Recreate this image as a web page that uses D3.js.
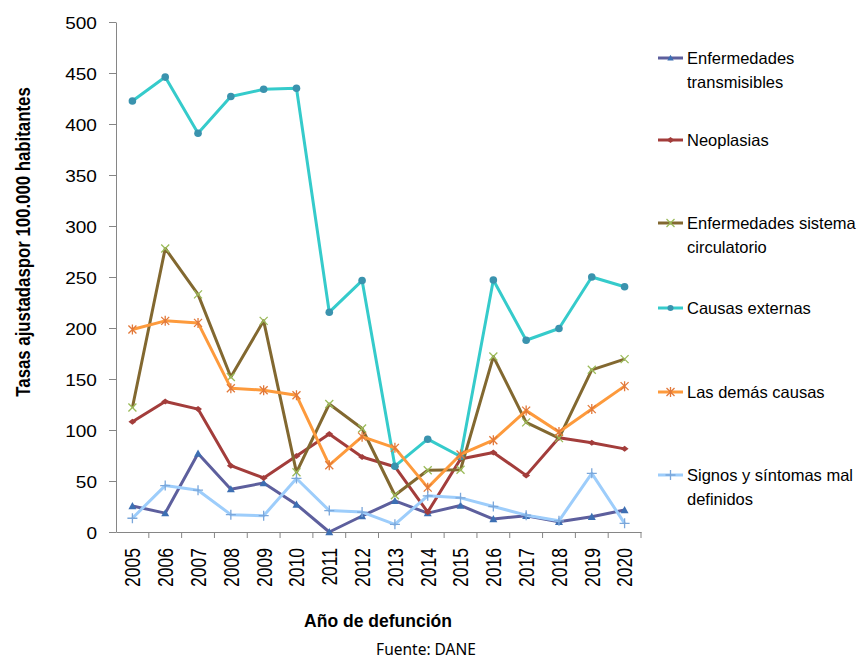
<!DOCTYPE html>
<html>
<head>
<meta charset="utf-8">
<script src="https://cdn.jsdelivr.net/npm/d3@7"></script>
<style>
  body { margin: 0; background: #fff; }
  svg { display: block; }
</style>
</head>
<body>
<div id="chart"></div>
<script>
// años (categorías)
var years = ['2005','2006','2007','2008','2009','2010','2011','2012','2013','2014','2015','2016','2017','2018','2019','2020'];
var yTicks = [0, 50, 100, 150, 200, 250, 300, 350, 400, 450, 500];

// tasas por grupo de causas
var transmisibles = [25.5, 18.5, 77, 42, 48, 27, 0, 15.7, 30.5, 18.5, 26, 12.7, 16, 10, 15, 21.5];
var neoplasias    = [108, 128, 120.5, 65, 53, 74.5, 96, 73.5, 64, 19.5, 71.5, 78, 55.5, 92.5, 87.5, 81.5];
var circulatorio  = [122, 278, 233, 152, 207, 58.5, 125.5, 101.5, 36, 60.5, 61, 172, 107.5, 92, 159, 169.5];
var externas      = [422.5, 446, 391, 427, 434, 435, 215.5, 246.5, 64.5, 91, 74, 247, 188, 199.5, 250, 240.5];
var demas         = [198.5, 207, 205, 141, 139, 134, 65.5, 93.5, 82.5, 43.5, 76, 90, 119, 98, 120.5, 143];
var signos        = [13.5, 45.5, 41, 17, 16, 52.5, 21, 19.5, 7.5, 35.5, 33.5, 25, 16.5, 11, 57.5, 8.5];

var seriesNames = ['Enfermedades transmisibles', 'Neoplasias', 'Enfermedades sistema circulatorio',
                   'Causas externas', 'Las demás causas', 'Signos y síntomas mal definidos'];
var legendLines = [['Enfermedades', 'transmisibles'], ['Neoplasias'], ['Enfermedades sistema', 'circulatorio'],
                   ['Causas externas'], ['Las demás causas'], ['Signos y síntomas mal', 'definidos']];

var series = [transmisibles, neoplasias, circulatorio, externas, demas, signos];
var lineColors = ['#5d5f9d', '#a33d3b', '#826830', '#35cbcb', '#fd9a3c', '#9dcdfb'];
var markColors = ['#3d6fb3', '#a33d3b', '#9bbb59', '#3a93ae', '#e2793a', '#7ba7da'];
var markTypes = ['tri', 'dia', 'x', 'circle', 'star', 'plus'];

var width = 860, height = 660;
var svg = d3.select('#chart').append('svg')
    .attr('width', width)
    .attr('height', height);

var x = d3.scaleBand().domain(years).range([116, 641]);
var y = d3.scaleLinear().domain([0, 500]).range([532, 22]);
var axisColor = '#868686';

// eje y
var gy = svg.append('g')
    .attr('transform', 'translate(116,0)')
    .call(d3.axisLeft(y).tickValues(yTicks).tickSize(7).tickSizeOuter(0));
gy.select('.domain').attr('stroke', axisColor);
gy.selectAll('.tick line').attr('stroke', axisColor);
gy.selectAll('.tick text')
    .attr('x', -17)
    .attr('dy', '0.36em')
    .attr('transform', 'scale(1.12,1)')
    .style('font-family', 'Liberation Sans, Arial, sans-serif')
    .style('font-size', '17px')
    .style('fill', '#000');

// eje x
var gx = svg.append('g')
    .attr('transform', 'translate(0,532)')
    .call(d3.axisBottom(x).tickSize(0).tickSizeOuter(0));
gx.select('.domain').attr('stroke', axisColor);
gx.selectAll('.tick text').remove();
gx.selectAll('.sep')
    .data(years.slice(1))
    .enter()
    .append('line')
    .attr('x1', function(d) { return x(d); })
    .attr('x2', function(d) { return x(d); })
    .attr('y1', 0)
    .attr('y2', 6)
    .attr('stroke', axisColor);
gx.append('line')
    .attr('x1', 641).attr('x2', 641).attr('y1', 0).attr('y2', 6)
    .attr('stroke', axisColor);

svg.append('g')
    .selectAll('text')
    .data(years)
    .enter()
    .append('text')
    .attr('transform', function(d) {
        return 'translate(' + (x(d) + x.bandwidth() / 2) + ',548) scale(1.25,1) rotate(-90)';
    })
    .attr('dy', '0.36em')
    .attr('text-anchor', 'end')
    .style('font-family', 'Liberation Sans, Arial, sans-serif')
    .style('font-size', '17.5px')
    .style('fill', '#000')
    .text(function(d) { return d; });

// títulos de ejes
svg.append('text')
    .attr('transform', 'translate(22,242) scale(1.25,1) rotate(-90)')
    .attr('dy', '0.36em')
    .attr('text-anchor', 'middle')
    .style('font-family', 'Liberation Sans, Arial, sans-serif')
    .style('font-weight', 'bold')
    .style('font-size', '16.8px')
    .text('Tasas ajustadaspor 100.000 habitantes');

svg.append('text')
    .attr('x', 378)
    .attr('y', 627)
    .attr('text-anchor', 'middle')
    .style('font-family', 'Liberation Sans, Arial, sans-serif')
    .style('font-weight', 'bold')
    .style('font-size', '17.5px')
    .text('Año de defunción');

svg.append('text')
    .attr('x', 426)
    .attr('y', 655)
    .attr('text-anchor', 'middle')
    .style('font-family', 'Noto Sans, Open Sans, sans-serif')
    .style('font-size', '15.5px')
    .text('Fuente: DANE');

// marcadores
function drawMark(g, type, color, s) {
    if (type === 'tri') {
        g.append('path').attr('d', 'M0,' + (-s) + 'L' + s + ',' + (s * 0.8) + 'L' + (-s) + ',' + (s * 0.8) + 'Z')
            .attr('fill', color);
    } else if (type === 'dia') {
        g.append('path').attr('d', 'M0,-3L4,0L0,3L-4,0Z').attr('fill', color);
    } else if (type === 'circle') {
        g.append('circle').attr('r', s).attr('fill', color);
    } else if (type === 'x') {
        g.append('path').attr('d', 'M-4,-4L4,4M-4,4L4,-4').attr('stroke', color).attr('stroke-width', 1.3);
    } else if (type === 'star') {
        g.append('path').attr('d', 'M-4,-4L4,4M-4,4L4,-4M0,-5L0,5').attr('stroke', color).attr('stroke-width', 1.3);
    } else if (type === 'plus') {
        g.append('path').attr('d', 'M-5,0L5,0M0,-5L0,5').attr('stroke', color).attr('stroke-width', 1.3);
    }
}

var line = d3.line()
    .x(function(d, i) { return x(years[i]) + x.bandwidth() / 2; })
    .y(function(d) { return y(d); });

var markSize = [4, 4, 4, 3.8, 4, 5];

series.forEach(function(vals, k) {
    var g = svg.append('g');
    g.append('path')
        .datum(vals)
        .attr('d', line)
        .attr('fill', 'none')
        .attr('stroke', lineColors[k])
        .attr('stroke-width', 3)
        .attr('stroke-linejoin', 'round');
    vals.forEach(function(v, i) {
        var m = g.append('g')
            .attr('transform', 'translate(' + (x(years[i]) + x.bandwidth() / 2) + ',' + y(v) + ')');
        drawMark(m, markTypes[k], markColors[k], markSize[k]);
    });
});

// leyenda
var legendY = [58, 140, 223, 308, 392, 475];
var legend = svg.append('g')
    .selectAll('g')
    .data(seriesNames)
    .enter()
    .append('g')
    .attr('transform', function(d, i) { return 'translate(658,' + legendY[i] + ')'; });

legend.append('line')
    .attr('x1', 0).attr('x2', 25)
    .attr('stroke', function(d, i) { return lineColors[i]; })
    .attr('stroke-width', 3);
legend.each(function(d, i) {
    var m = d3.select(this).append('g').attr('transform', 'translate(12.5,0)');
    drawMark(m, markTypes[i], markColors[i], markSize[i] * 0.8);
    var t = d3.select(this).append('text')
        .attr('x', 29)
        .attr('y', 0)
        .style('font-family', 'Liberation Sans, Arial, sans-serif')
        .style('font-size', '16.5px')
        .style('fill', '#000');
    legendLines[i].forEach(function(s, j) {
        t.append('tspan').attr('x', 29).attr('dy', j === 0 ? '0.36em' : '24px').text(s);
    });
});
</script>
</body>
</html>
